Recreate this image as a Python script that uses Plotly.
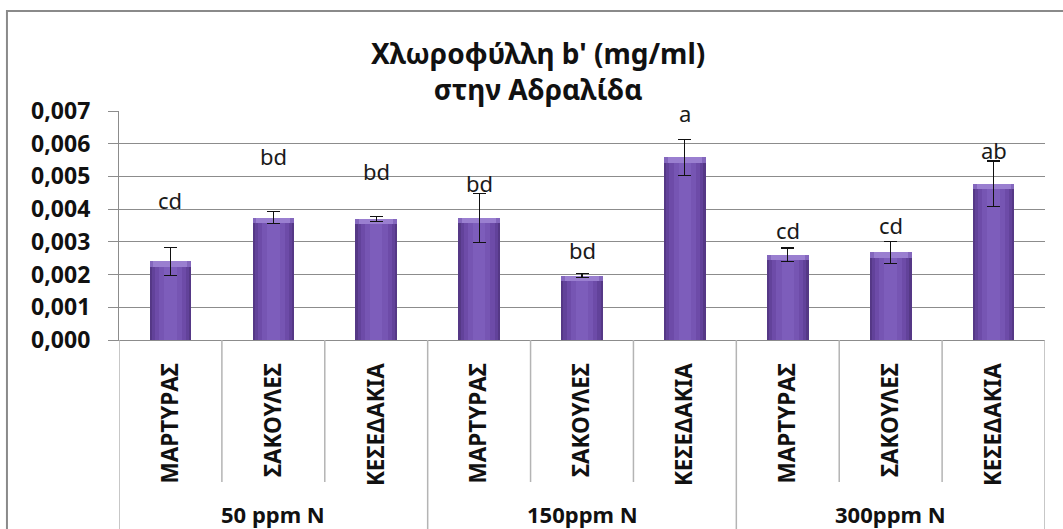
import plotly.graph_objects as go

# Chlorophyll b' per treatment, grouped by nitrogen dose
groups = ["50 ppm N", "150ppm N", "300ppm N"]
treatments = ["ΜΑΡΤΥΡΑΣ", "ΣΑΚΟΥΛΕΣ", "ΚΕΣΕΔΑΚΙΑ"] * 3
values = [0.00240, 0.00374, 0.00370, 0.00374, 0.00197, 0.00558, 0.00260, 0.00268, 0.00478]
errors = [0.00043, 0.00018, 0.00007, 0.00075, 0.00007, 0.00055, 0.00021, 0.00033, 0.00069]
letters = ["cd", "bd", "bd", "bd", "bd", "a", "cd", "cd", "ab"]
letter_y = [0.00429, 0.00562, 0.00517, 0.00480, 0.00276, 0.00695, 0.00336, 0.00352, 0.00581]

FONT = "'Noto Sans', 'Open Sans', sans-serif"
idx = list(range(len(values)))
n_per_group = 3
BEVEL = 0.00016  # depth of the lighter top edge, in axis units

fig = go.Figure()

# layered bars give a darker-edge / lighter-centre shading
layers = [
    (0.405, "#553886"),
    (0.36, "#62429a"),
    (0.30, "#6d4ba8"),
    (0.22, "#7655b3"),
    (0.12, "#7d5dbb"),
]
for w, c in layers:
    fig.add_trace(go.Bar(
        x=idx, y=values, width=w, marker=dict(color=c, line=dict(width=0)),
        hoverinfo="skip", showlegend=False,
    ))

# light bevel along the top of each bar
for w, c in [(0.405, "#8467bd"), (0.33, "#9a7fd0")]:
    fig.add_trace(go.Bar(
        x=idx, y=[BEVEL] * len(values), base=[v - BEVEL for v in values],
        width=w, marker=dict(color=c, line=dict(width=0)),
        hoverinfo="skip", showlegend=False,
    ))

# error bars drawn on an invisible bar trace on top
fig.add_trace(go.Bar(
    x=idx, y=values, width=0.405,
    marker=dict(color="rgba(0,0,0,0)", line=dict(width=0)),
    error_y=dict(type="data", array=errors, visible=True,
                 color="#111111", thickness=1.2, width=6.5),
    showlegend=False,
))

annotations = []
for i, (lt, ly) in enumerate(zip(letters, letter_y)):
    annotations.append(dict(
        x=i, y=ly, xref="x", yref="y", text=lt, showarrow=False,
        yanchor="middle", font=dict(family=FONT, size=22, color="#1a1a1a"),
    ))

for g, name in enumerate(groups):
    annotations.append(dict(
        x=g * n_per_group + 1, y=-0.76, xref="x", yref="paper",
        text=f"<b>{name}</b>", showarrow=False, yanchor="middle",
        font=dict(family=FONT, size=22, color="#111111"),
    ))

annotations.append(dict(
    x=0.5, xref="paper", y=1.1725, yref="paper", xanchor="center",
    xshift=-44, yanchor="middle",
    text="<b>Χλωροφύλλη b' (mg/ml)<br>στην Αδραλίδα</b>", showarrow=False,
    font=dict(family=FONT, size=28, color="#111111"),
))

shapes = []
# category table dividers below the axis
for k in range(len(values) + 1):
    xb = k - 0.5
    outer = k % n_per_group == 0
    shapes.append(dict(
        type="line", xref="x", yref="paper", x0=xb, x1=xb,
        y0=0, y1=-0.9 if outer else -0.62,
        line=dict(color="#b4b4b4", width=1.5),
    ))
# chart frame
shapes.append(dict(
    type="rect", xref="paper", yref="paper",
    x0=-0.121, x1=1.2, y0=-1.2, y1=1.437,
    line=dict(color="#8a8a8a", width=2), fillcolor="rgba(0,0,0,0)",
    layer="below",
))

fig.update_layout(
    width=1063, height=529,
    margin=dict(l=119, r=18, t=111, b=189),
    paper_bgcolor="white", plot_bgcolor="white",
    barmode="overlay", bargap=0,
    separators=",.",
    font=dict(family=FONT, color="#111111"),
    annotations=annotations, shapes=shapes,
    xaxis=dict(
        tickmode="array", tickvals=idx,
        ticktext=[f"<b>{t}</b>" for t in treatments],
        tickangle=-90, ticks="", range=[-0.5, len(values) - 0.5],
        showgrid=False, zeroline=False, showline=True,
        linecolor="#8c8c8c", linewidth=1.2,
        tickfont=dict(family=FONT, size=22.5, color="#111111"),
        ticklabelstandoff=13,
    ),
    yaxis=dict(
        range=[0, 0.007], dtick=0.001, tickformat=".3f",
        showgrid=True, gridcolor="#8c8c8c", gridwidth=1.2,
        zeroline=False, showline=True, linecolor="#8c8c8c", linewidth=1.2,
        ticks="outside", ticklen=10, tickcolor="#8c8c8c", tickwidth=1.2,
        tickfont=dict(family=FONT, size=23, color="#111111"),
        tickprefix="<b>", ticksuffix="</b>", ticklabelstandoff=13,
    ),
)

fig.write_html("out.html")
